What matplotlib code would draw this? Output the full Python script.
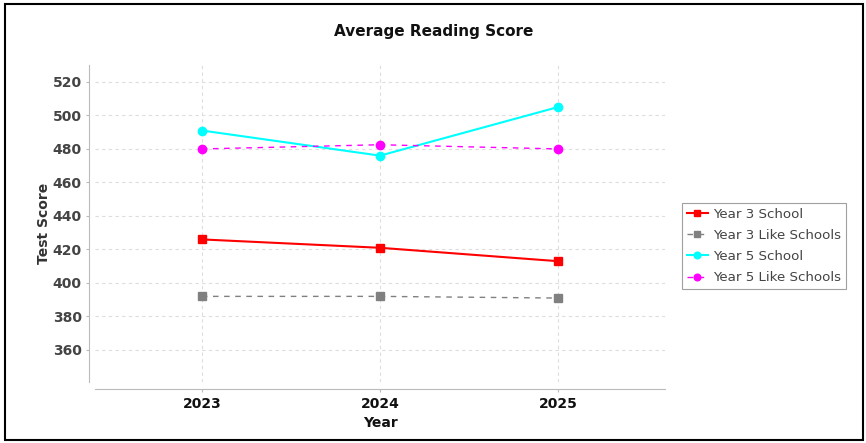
import matplotlib.pyplot as plt
from matplotlib.patches import Rectangle

years = [2023, 2024, 2025]
y3_school = [426, 421, 413]
y3_like = [392, 392, 391]
y5_school = [491, 476, 505]
y5_like = [480, 482.5, 480]

fig = plt.figure(figsize=(8.66, 4.43), dpi=100)
ax = fig.add_axes([0.1097, 0.1377, 0.6582, 0.7156])

ax.plot(years, y3_school, color="#ff0000", lw=1.5, marker="s", ms=6, label="Year 3 School")
ax.plot(years, y3_like, color="#808080", lw=1, ls=(0, (4, 4)), marker="s", ms=6, label="Year 3 Like Schools")
ax.plot(years, y5_school, color="#00ffff", lw=1.5, marker="o", ms=6, label="Year 5 School")
ax.plot(years, y5_like, color="#ff00ff", lw=1, ls=(0, (4, 4)), marker="o", ms=6, label="Year 5 Like Schools")

ax.set_xlim(2022.4, 2025.6)
ax.set_ylim(340.9, 530.1)
ax.set_xticks(years)
ax.set_xticklabels([str(y) for y in years])
ax.set_yticks(range(360, 521, 20))

ax.grid(True, color="#dddddd", ls=(0, (3, 3)), lw=0.8)
ax.set_axisbelow(True)

for s in ["top", "right"]:
    ax.spines[s].set_visible(False)
ax.spines["left"].set_position(("outward", 4))
ax.spines["bottom"].set_position(("outward", 5))
ax.spines["left"].set_color("#bbbbbb")
ax.spines["bottom"].set_color("#bbbbbb")
ax.tick_params(axis="both", length=2, color="#bbbbbb", labelcolor="#444444", labelsize=10)
for lab in ax.get_xticklabels() + ax.get_yticklabels():
    lab.set_fontweight("bold")
for lab in ax.get_xticklabels():
    lab.set_color("#111111")

ax.set_xlabel("Year", fontsize=10, fontweight="bold", color="#111111", labelpad=4)
ax.set_ylabel("Test Score", fontsize=10, fontweight="bold", color="#333333", labelpad=1)
fig.text(0.5 * (0.1097 + 0.7679) + 0.062, 0.93, "Average Reading Score", ha="center", va="center",
         fontsize=11, fontweight="bold", color="#111111")

leg = ax.legend(loc="center left", bbox_to_anchor=(1.0298, 0.429), fontsize=9.6, frameon=True,
                fancybox=False, edgecolor="#888888", borderpad=0.35, handlelength=1.6,
                handletextpad=0.4, labelspacing=0.62, markerscale=0.8, borderaxespad=0)
leg.get_frame().set_linewidth(0.8)
for t in leg.get_texts():
    t.set_color("#444444")

fig.patches.append(Rectangle((5 / 866, 3 / 443), 858 / 866, 436 / 443, transform=fig.transFigure,
                             fill=False, edgecolor="#000000", lw=1.5))

fig.savefig("out.png", dpi=100)
